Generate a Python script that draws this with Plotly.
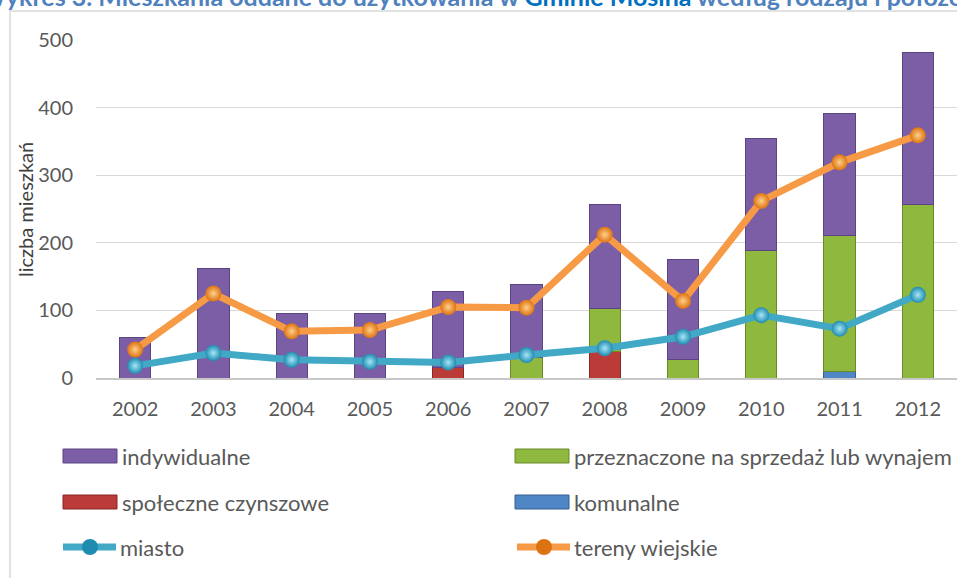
import plotly.graph_objects as go

years = ["2002", "2003", "2004", "2005", "2006", "2007", "2008", "2009", "2010", "2011", "2012"]
indywidualne = [60, 162, 96, 95, 113, 108, 153, 148, 166, 181, 226]
przeznaczone = [0, 0, 0, 0, 0, 30, 64, 27, 189, 201, 256]
spoleczne = [0, 0, 0, 0, 15, 0, 39, 0, 0, 0, 0]
komunalne = [0, 0, 0, 0, 0, 0, 0, 0, 0, 10, 0]
miasto = [18, 37, 27, 24, 23, 34, 44, 61, 93, 73, 123]
wiejskie = [42, 125, 69, 71, 105, 104, 212, 114, 262, 319, 359]
y_ticks = [0, 100, 200, 300, 400, 500]

W, H = 957, 578
L, R, T, B = 96, 0, 40, 200
PW, PH = W - L - R, H - T - B

def px(x):
    return (x - L) / PW

def py(y):
    return (H - B - y) / PH

FONT = "Lato"
TXT = "#595959"

C_PURPLE, E_PURPLE = "#7C5EA7", "#5A4482"
C_GREEN, E_GREEN = "#8FB83E", "#6A8A2A"
C_RED, E_RED = "#BA3B37", "#8A2825"
C_BLUE, E_BLUE = "#4F86C6", "#365E8F"
C_TEAL, C_TEAL_D, C_TEAL_L = "#41A9C6", "#1E8CB0", "#A6E6F6"
C_OR, C_OR_D, C_OR_L = "#F79A45", "#DC7312", "#FFD08A"

fig = go.Figure()

def bar(name, vals, c, e):
    fig.add_trace(go.Bar(x=years, y=vals, name=name, showlegend=False,
                         marker=dict(color=c, line=dict(color=e, width=1))))

bar("komunalne", komunalne, C_BLUE, E_BLUE)
bar("społeczne czynszowe", spoleczne, C_RED, E_RED)
bar("przeznaczone na sprzedaż lub wynajem", przeznaczone, C_GREEN, E_GREEN)
bar("indywidualne", indywidualne, C_PURPLE, E_PURPLE)

def line(name, vals, c, cd, cl):
    fig.add_trace(go.Scatter(x=years, y=vals, name=name, mode="lines+markers", showlegend=False,
                             line=dict(color=c, width=7),
                             marker=dict(size=16, color=cd, line=dict(width=0),
                                         gradient=dict(type="radial", color=cl))))

line("miasto", miasto, C_TEAL, C_TEAL_D, C_TEAL_L)
line("tereny wiejskie", wiejskie, C_OR, C_OR_D, C_OR_L)

shapes = []
annotations = []

# outer frame
shapes.append(dict(type="rect", xref="paper", yref="paper",
                   x0=px(10), x1=px(975), y0=py(600), y1=py(11),
                   line=dict(color="#D9D9D9", width=1.5), fillcolor="rgba(0,0,0,0)", layer="below"))

# title (partially cut off at top, as in the reference)
annotations.append(dict(
    xref="paper", yref="paper", x=px(-22), y=py(-4), xanchor="left", yanchor="middle",
    showarrow=False,
    text="<b>Wykres 3. Mieszkania oddane do użytkowania w <span style='color:#0070C0'>Gminie Mosina</span> według rodzaju i położenia</b>",
    font=dict(family=FONT, size=25, color="#4F81BD")))

# y-axis title
annotations.append(dict(xref="paper", yref="paper", x=px(25), y=py(210), xanchor="center", yanchor="middle",
                        showarrow=False, textangle=-90, text="liczba mieszkań",
                        font=dict(family=FONT, size=20, color="#404040")))

# custom legend
legend_items = [
    ("bar", "indywidualne", C_PURPLE, E_PURPLE, 63, 456),
    ("bar", "przeznaczone na sprzedaż lub wynajem", C_GREEN, E_GREEN, 515, 456),
    ("bar", "społeczne czynszowe", C_RED, E_RED, 63, 502),
    ("bar", "komunalne", C_BLUE, E_BLUE, 515, 502),
    ("line", "miasto", C_TEAL, C_TEAL_D, 61, 547),
    ("line", "tereny wiejskie", C_OR, C_OR_D, 515, 547),
]
for kind, label, c, e, x0, yc in legend_items:
    if kind == "bar":
        shapes.append(dict(type="rect", xref="paper", yref="paper",
                           x0=px(x0), x1=px(x0 + 54), y0=py(yc + 7), y1=py(yc - 7),
                           fillcolor=c, line=dict(color=e, width=1)))
    else:
        shapes.append(dict(type="line", xref="paper", yref="paper",
                           x0=px(x0 + 2), x1=px(x0 + 55), y0=py(yc), y1=py(yc),
                           line=dict(color=c, width=7)))
        shapes.append(dict(type="circle", xref="paper", yref="paper",
                           x0=px(x0 + 21), x1=px(x0 + 37), y0=py(yc + 8), y1=py(yc - 8),
                           fillcolor=e, line=dict(color=e, width=0)))
    annotations.append(dict(xref="paper", yref="paper", x=px(x0 + 57), y=py(yc),
                            xanchor="left", yanchor="middle", showarrow=False, text=label,
                            font=dict(family=FONT, size=22, color=TXT)))

fig.update_layout(
    width=W, height=H,
    margin=dict(l=L, r=R, t=T, b=B),
    paper_bgcolor="white", plot_bgcolor="white",
    barmode="stack", bargap=0.6,
    showlegend=False,
    shapes=shapes, annotations=annotations,
    xaxis=dict(type="category", range=[-0.5, 10.5], showgrid=False, showline=True,
               linecolor="#C8C8C8", linewidth=2, ticks="", ticklabelstandoff=12,
               tickfont=dict(family=FONT, size=20, color=TXT), fixedrange=True),
    yaxis=dict(range=[0, 500], tickvals=y_ticks, showgrid=True, gridcolor="#D9D9D9", gridwidth=1,
               zeroline=False, showline=False, ticks="", ticklabelstandoff=22,
               tickfont=dict(family=FONT, size=20, color=TXT), fixedrange=True),
)

fig.write_html("out.html", config={"displayModeBar": False},
               post_script="document.body.style.margin='0';")
